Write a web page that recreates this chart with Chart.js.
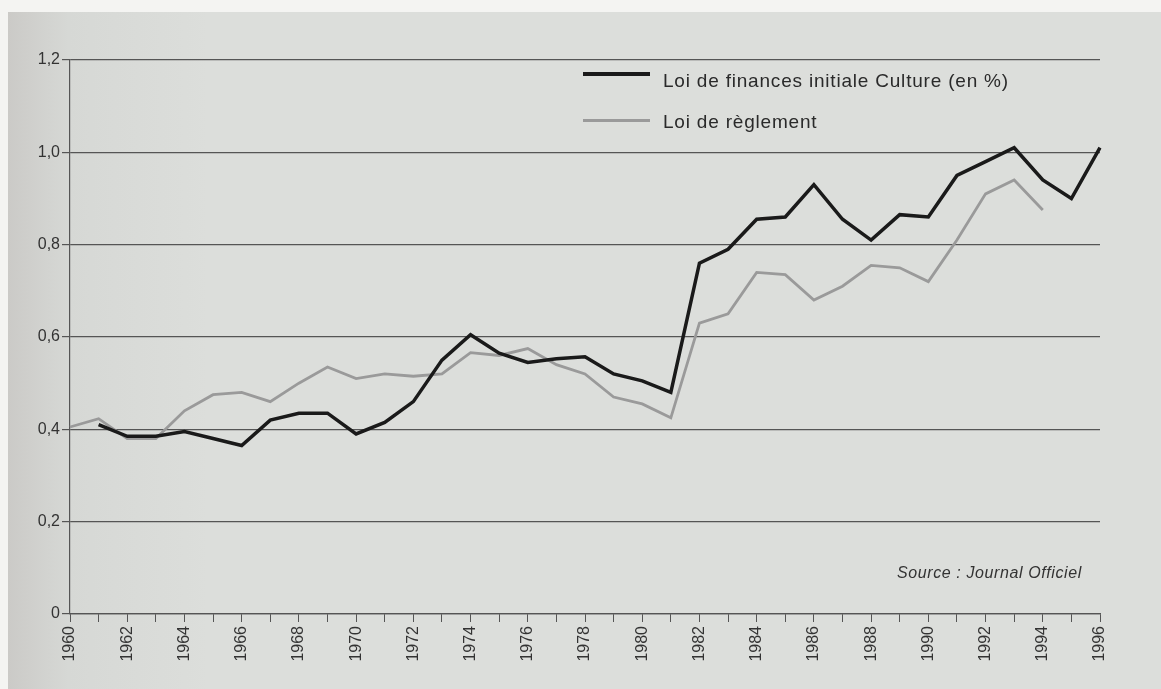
<!DOCTYPE html>
<html>
<head>
<meta charset="utf-8">
<script src="https://cdn.jsdelivr.net/npm/chart.js@4"></script>
<style>
  html, body { margin: 0; padding: 0; background: #f4f4f2; }
  #page {
    position: absolute; left: 8px; top: 12px; width: 1153px; height: 677px;
    background: linear-gradient(to right, #cbcac7 0px, #d6d8d5 60px, #dcdedb 200px, #dcdedb 100%);
  }
  #wrap { position: absolute; left: 0; top: 0; width: 1161px; height: 689px; }
  .leg { position: absolute; font-family: "Liberation Sans", Arial, sans-serif; font-size: 19px;
         letter-spacing: 0.8px; color: #2a2a2a; }
  .sw { position: absolute; height: 4px; }
  #src { position: absolute; left: 897px; top: 564px; font-family: "Liberation Sans", Arial, sans-serif;
         font-style: italic; font-size: 16px; letter-spacing: 0.6px; color: #333; }
</style>
</head>
<body>
<div id="page"></div>
<div id="wrap"><canvas id="lineChart" width="1161" height="689"></canvas></div>
<div class="sw" style="left:583px;top:72px;width:67px;background:#1a1a1a;"></div>
<div class="leg" style="left:663px;top:70px;">Loi de finances initiale Culture (en %)</div>
<div class="sw" style="left:583px;top:119px;width:67px;height:3px;background:#9a9a9a;"></div>
<div class="leg" style="left:663px;top:111px;">Loi de règlement</div>
<div id="src">Source : Journal Officiel</div>
<script>
var years = []
for (var y = 1960; y <= 1996; y++) years.push(String(y))

var loiFinances = [null, 0.41, 0.385, 0.385, 0.395, 0.38, 0.365, 0.42, 0.435, 0.435,
    0.39, 0.415, 0.46, 0.55, 0.605, 0.565, 0.545, 0.553, 0.557, 0.52,
    0.505, 0.48, 0.76, 0.79, 0.855, 0.86, 0.93, 0.855, 0.81, 0.865,
    0.86, 0.95, 0.98, 1.01, 0.94, 0.90, 1.01]

var loiReglement = [0.405, 0.423, 0.38, 0.38, 0.44, 0.475, 0.48, 0.46, 0.50, 0.535,
    0.51, 0.52, 0.515, 0.52, 0.566, 0.56, 0.575, 0.54, 0.52, 0.47,
    0.455, 0.425, 0.63, 0.65, 0.74, 0.735, 0.68, 0.71, 0.755, 0.75,
    0.72, 0.81, 0.91, 0.94, 0.875, null, null]

var yTicks = ['0', '0,2', '0,4', '0,6', '0,8', '1,0', '1,2']

var ctx = document.getElementById('lineChart').getContext('2d')
var chart = new Chart(ctx, {
    type: 'line',
    data: {
        labels: years,
        datasets: [
            {
                label: 'Loi de finances initiale Culture (en %)',
                data: loiFinances,
                borderColor: '#1a1a1a',
                borderWidth: 3.5,
                pointRadius: 0,
                tension: 0,
                order: 1
            },
            {
                label: 'Loi de règlement',
                data: loiReglement,
                borderColor: '#9a9a9a',
                borderWidth: 2.8,
                pointRadius: 0,
                tension: 0,
                order: 2
            }
        ]
    },
    options: {
        responsive: false,
        animation: false,
        layout: { padding: { left: 0, top: 60, right: 61, bottom: 0 } },
        plugins: { legend: { display: false }, tooltip: { enabled: false } },
        scales: {
            x: {
                offset: false,
                afterFit: function (scale) { scale.height = 75 },
                border: { display: true, color: '#555', width: 1.2 },
                grid: { drawOnChartArea: false, drawTicks: true, tickLength: 8, color: '#555' },
                ticks: {
                    autoSkip: false,
                    minRotation: 90,
                    maxRotation: 90,
                    padding: 4,
                    color: '#333',
                    font: { family: 'Liberation Sans', size: 16 },
                    callback: function (v, i) { return (1960 + i) % 2 === 0 ? years[i] : '' }
                }
            },
            y: {
                min: 0,
                max: 1.2,
                afterFit: function (scale) { scale.width = 70 },
                border: { display: true, color: '#555', width: 1.2 },
                grid: { color: '#555', lineWidth: 1.2, tickLength: 8 },
                ticks: {
                    stepSize: 0.2,
                    padding: 2,
                    color: '#333',
                    font: { family: 'Liberation Sans', size: 16 },
                    callback: function (v, i) { return yTicks[i] }
                }
            }
        }
    }
})
</script>
</body>
</html>
